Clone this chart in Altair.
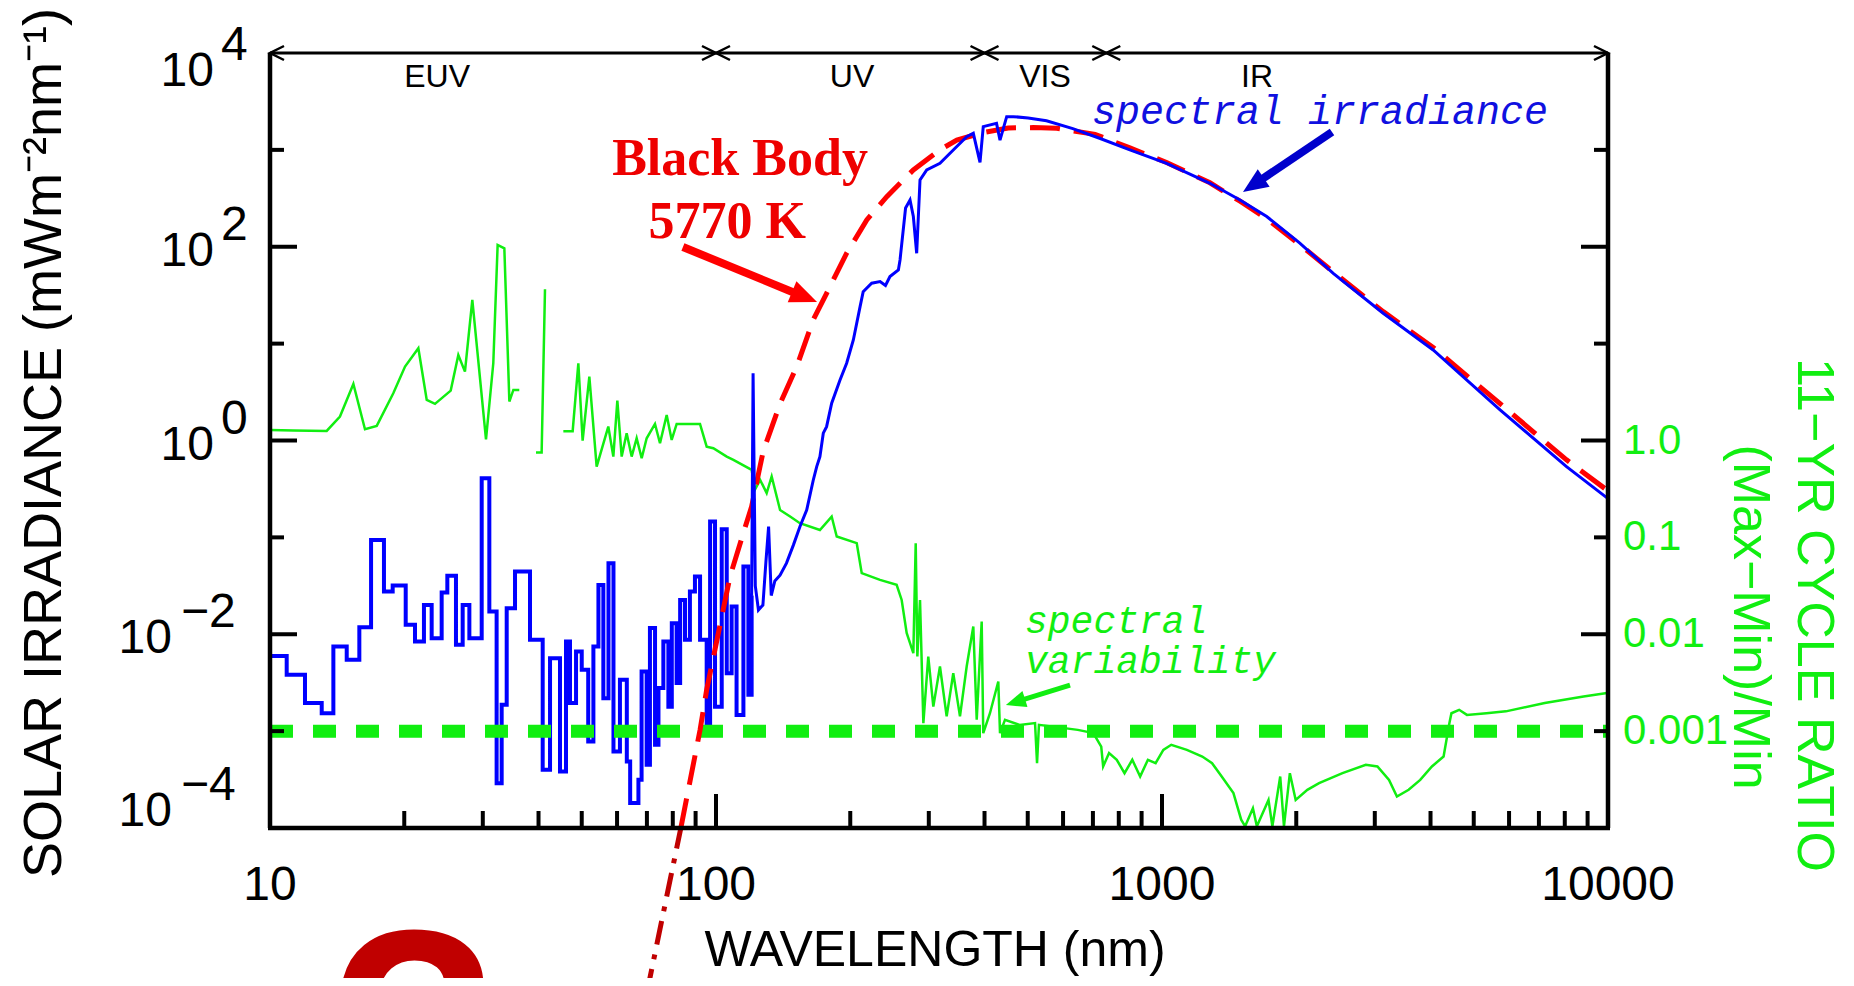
import altair as alt
import pandas as pd

# ---------------- data ----------------
# Blue: EUV spectral irradiance, drawn as steps (nm, mW m^-2 nm^-1)
euv_wl = [10.0, 10.0, 10.9, 11.98, 13.06, 13.87, 14.86, 15.86, 16.85, 18.01, 18.84, 20.15, 21.14, 22.14,
          23.04, 24.26, 24.98, 26.12, 27.04, 27.99, 29.83, 31.03, 32.22, 33.07, 33.94, 35.43, 38.28, 40.87,
          42.45, 44.69, 46.10, 47.06, 48.55, 50.0, 51.7, 53.1, 54.5, 55.9, 57.4, 58.9, 60.9, 63.1, 64.2,
          67.0, 68.1, 69.9, 71.1, 73.0, 74.3, 76.2, 78.2, 79.6, 81.6, 83.1, 85.2, 87.4, 89.7, 92.1, 95.3,
          97.0, 99.5, 103.0, 105.7, 108.4, 111.2, 115.2, 118.2, 120.2, 120.9]
euv_irr = [0.0186, 0.00598, 0.00381, 0.00195, 0.00153, 0.00746, 0.00545, 0.0118, 0.0942, 0.0276, 0.0318,
           0.0125, 0.00841, 0.0201, 0.00912, 0.0270, 0.0401, 0.00778, 0.0201, 0.00912, 0.408, 0.0172,
           0.000290, 0.00187, 0.0186, 0.0445, 0.00875, 0.000399, 0.00566, 0.000383, 0.00841, 0.00195,
           0.00664, 0.00430, 0.000782, 0.00746, 0.0323, 0.00219, 0.0540, 0.000617, 0.00339, 0.000486,
           0.000181, 0.000315, 0.00413, 0.000450, 0.0116, 0.000723, 0.00278, 0.00841, 0.00179, 0.0130,
           0.00313, 0.0226, 0.00875, 0.0276, 0.0394, 0.00875, 0.00121, 0.146, 0.00179, 0.121, 0.00396,
           0.0193, 0.00147, 0.0499, 0.00237, 0.0251, 0.0251]

# Blue: spectral irradiance from Lyman alpha to the IR
sp_wl = [120.2, 121.1, 122.5, 124.5, 127.4, 129.4, 131.2, 133.0, 135.5, 139.2, 143.9, 149.1, 154.2, 159.7,
         165.2, 168.2, 171.0, 174.0, 177.0, 181.7, 189.7, 196.3, 203.2, 210.4, 213.8, 223.4, 233.3, 239.9,
         245.5, 256.4, 258.6, 266.1, 272.3, 277.0, 281.8, 286.7, 296.8, 317.8, 340.4, 364.8, 377.5, 390.8,
         397.4, 425.6, 433.3, 448.5, 464.1, 501.2, 550.8, 631.0, 724.4, 847.2, 1024, 1281, 1496, 1717,
         2037, 2421, 3133, 4055, 5728, 8072, 10000]
sp_irr = [0.0251, 4.94, 0.0316, 0.0178, 0.0200, 0.0562, 0.129, 0.0251, 0.0355, 0.0407, 0.0542, 0.0832,
          0.129, 0.191, 0.389, 0.537, 0.682, 1.19, 1.39, 2.43, 4.22, 6.27, 10.9, 24.1, 34.4, 42.0, 43.7,
          39.8, 49.2, 57.7, 73.1, 251, 304, 205, 85.7, 489, 621, 726, 998, 1368, 1483, 741, 1738, 1879,
          1259, 2203, 2203, 2138, 1995, 1660, 1318, 1000, 726, 452, 304, 205, 109, 53.2, 20.6, 8.61, 2.07,
          0.538, 0.251]

# Red dashed: black body 5770 K
bb_wl = [83.4, 92.1, 95.3, 107.5, 115.1, 120.2, 127.6, 139.2, 151.7, 165.2, 177.0, 196.3, 217.8, 241.5,
         277.0, 317.7, 346.7, 398.1, 451.9, 514.0, 580.8, 707.9, 847.2, 1024, 1281, 1496, 1717, 2037,
         2421, 3133, 4055, 5728, 8072, 10000]
bb_irr = [0.000100, 0.00103, 0.00267, 0.0394, 0.110, 0.208, 0.776, 2.40, 5.79, 17.6, 33.1, 85.7, 189,
          329, 621, 1000, 1265, 1514, 1683, 1698, 1671, 1445, 1047, 741, 457, 295, 195, 105, 55.0, 21.4,
          9.12, 2.40, 0.631, 0.302]
# black body continuation below the frame (dark red)
bb_low_wl = [70.0, 83.4]
bb_low_irr = [2.0e-6, 1.0e-4]

# Green: 11-yr cycle ratio (Max-Min)/Min, three pieces (gaps in the EUV)
gA_wl = [10.0, 11.28, 13.40, 14.35, 15.38, 16.33, 17.35, 18.90, 20.08, 21.51, 22.46, 23.44, 25.42, 26.44,
         27.36, 28.42, 30.50, 31.67, 32.39, 33.53, 34.41, 35.13, 36.22]
gA_val = [1.285, 1.265, 1.256, 1.766, 3.837, 1.306, 1.416, 3.076, 5.794, 8.954, 2.624, 2.388, 3.273, 7.638,
          5.140, 28.25, 1.030, 6.266, 104.5, 96.4, 2.523, 3.327, 3.327]
gB_wl = [39.48, 40.65, 41.36]
gB_val = [0.750, 0.750, 36.4]
gC_wl = [45.47, 47.71, 49.13, 50.23, 52.00, 54.00, 57.35, 58.86, 60.09, 61.45,
         63.05, 64.70, 66.39, 68.13, 69.91, 72.98, 74.89, 77.52, 79.55, 81.62,
         92.07, 95.30, 98.63, 105.7, 109.4, 120.2, 122.2, 125.6, 129.9, 133.3,
         139.2, 146.6, 154.2, 171.0, 181.7, 186.5, 206.8, 212.2, 233.2, 254.1,
         260.8, 267.6, 277.0, 280.4, 282.8, 286.7, 291.7, 299.2, 307.1, 317.8,
         329.0, 340.4, 352.4, 364.8, 377.5, 384.2, 394.2, 397.4, 411.4, 429.5,
         433.3, 444.6, 479.2, 519.2, 524.6, 529.8, 647.4, 701.5, 730.7, 738.0,
         760.8, 791.7, 824.1, 857.8, 893.3, 929.8, 967.6, 1007, 1049, 1137,
         1231, 1295, 1361, 1446, 1505, 1536, 1599, 1632, 1733, 1768,
         1841, 1877, 1935, 1994, 2118, 2250, 2539, 2864, 3041, 3229,
         3363, 3573, 3793, 4029, 4279, 4410, 4456, 4637, 4827, 5340,
         5902, 7214, 8815, 9950]
gC_val = [1.247, 1.247, 6.266, 0.998, 4.571, 0.538, 1.393, 0.682, 2.582, 0.682,
          1.189, 0.682, 1.054, 0.656, 1.054, 1.483, 0.937, 1.837, 1.014, 1.483,
          1.483, 0.865, 0.832, 0.682, 0.631, 0.498, 0.309, 0.392, 0.286, 0.425,
          0.192, 0.164, 0.140, 0.119, 0.164, 0.102, 0.0871, 0.0427, 0.0364, 0.0324,
          0.0226, 0.0103, 0.00638, 0.0871, 0.00589, 0.0226, 0.00121, 0.00589, 0.00179, 0.00465,
          0.00142, 0.00396, 0.00142, 0.00465, 0.0120, 0.00131, 0.0135, 0.000953, 0.00153, 0.00325,
          0.000953, 0.00131, 0.00116, 0.00121, 0.000467, 0.00116, 0.00103, 0.000953, 0.000693, 0.000432,
          0.000593, 0.000506, 0.000368, 0.000506, 0.000340, 0.000506, 0.000467, 0.000641, 0.000723, 0.000641,
          0.000547, 0.000467, 0.000340, 0.000229, 0.000122, 0.000104, 0.000160, 0.000104, 0.000195, 0.000104,
          0.000340, 0.000104, 0.000368, 0.000195, 0.000248, 0.000290, 0.000368, 0.000449, 0.000432, 0.000314,
          0.000211, 0.000248, 0.000314, 0.000432, 0.000547, 0.00121, 0.00153, 0.00166, 0.00147, 0.00153,
          0.00160, 0.00195, 0.00228, 0.00247]

# Green dashed reference level
ref_wl = [10, 10000]
ref_val = [0.001, 0.001]

# Axis ticks and labels
x_major = [100, 1000]
x_minor = [20, 30, 40, 50, 60, 70, 80, 90, 200, 300, 400, 500, 600, 700, 800, 900,
           2000, 3000, 4000, 5000, 6000, 7000, 8000, 9000]
x_labels = ["10", "100", "1000", "10000"]
x_label_vals = [10, 100, 1000, 10000]
y_long = [1e2, 1.0, 1e-2]
y_short = [1e3, 10.0, 1e-1, 1e-3]
y_label_vals = [1e4, 1e2, 1.0, 1e-2, 1e-4]
y_label_exps = ["4", "2", "0", "\u22122", "\u22124"]
r_label_vals = [1.0, 0.1, 0.01, 0.001]
r_labels = ["1.0", "0.1", "0.01", "0.001"]

# Spectral regions on the top bar
region_names = ["EUV", "UV", "VIS", "IR"]
region_pos = [23.7, 201.8, 546.6, 1633]
region_bounds = [100, 400, 750]

# Annotations (data coordinates)
red_arrow = {"x1": 84.3, "y1": 99.4, "x2": 153.1, "y2": 32.2, "tx": 168.5, "ty": 26.9}
blue_arrow = {"x1": 2405, "y1": 1529, "x2": 1655, "y2": 479.6, "tx": 1519, "ty": 367.6}
green_arrow = {"x1": 622, "y1": 0.00299, "x2": 474.3, "y2": 0.002026, "tx": 446.7, "ty": 0.001861}

# ---------------- chart ----------------
W, H = 1338, 775
SANS = "Liberation Sans"
BLUE = "#0000FF"
GREEN = "#11EE11"
RED = "#FF0000"

xs = alt.Scale(type="log", domain=[10, 10000])
ys = alt.Scale(type="log", domain=[1e-4, 1e4])


def X(f):
    return alt.X(f"{f}:Q", scale=xs, axis=None)


def Y(f):
    return alt.Y(f"{f}:Q", scale=ys, axis=None)


def line_df(wl, val):
    return pd.DataFrame({"wl": wl, "val": val, "i": list(range(len(wl)))})


rows = []
for seg, (wl, vv) in enumerate([(gA_wl, gA_val), (gB_wl, gB_val), (gC_wl, gC_val)]):
    for i, (a, b) in enumerate(zip(wl, vv)):
        rows.append({"wl": a, "val": b, "seg": seg, "i": i})
green_df = pd.DataFrame(rows)

one = pd.DataFrame({"a": [0]})
layers = []

# data series
layers.append(alt.Chart(green_df).mark_line(color=GREEN, strokeWidth=2.5).encode(
    x=X("wl"), y=Y("val"), detail="seg:N", order="i:Q"))
layers.append(alt.Chart(line_df(euv_wl, euv_irr)).mark_line(
    color=BLUE, strokeWidth=4, interpolate="step-after").encode(x=X("wl"), y=Y("val"), order="i:Q"))
layers.append(alt.Chart(line_df(ref_wl, ref_val)).mark_line(
    color=GREEN, strokeWidth=13, strokeDash=[23, 20]).encode(x=X("wl"), y=Y("val"), order="i:Q"))
layers.append(alt.Chart(line_df(bb_low_wl, bb_low_irr)).mark_line(
    color="#C00000", strokeWidth=5, strokeDash=[24, 10, 5, 10]).encode(x=X("wl"), y=Y("val"), order="i:Q"))
layers.append(alt.Chart(line_df(bb_wl, bb_irr)).mark_line(
    color=RED, strokeWidth=5, strokeDash=[30, 14]).encode(x=X("wl"), y=Y("val"), order="i:Q"))
layers.append(alt.Chart(line_df(sp_wl, sp_irr)).mark_line(
    color=BLUE, strokeWidth=3).encode(x=X("wl"), y=Y("val"), order="i:Q"))

# frame
layers.append(alt.Chart(one).mark_rule(color="black", strokeWidth=4.5).encode(
    x=alt.value(0), y=alt.value(0), y2=alt.value(H)))
layers.append(alt.Chart(one).mark_rule(color="black", strokeWidth=4.5).encode(
    x=alt.value(W), y=alt.value(0), y2=alt.value(H)))
layers.append(alt.Chart(one).mark_rule(color="black", strokeWidth=4.5).encode(
    x=alt.value(-2), x2=alt.value(W + 2), y=alt.value(H)))
layers.append(alt.Chart(one).mark_rule(color="black", strokeWidth=3).encode(
    x=alt.value(0), x2=alt.value(W), y=alt.value(0)))

# ticks
layers.append(alt.Chart(pd.DataFrame({"v": y_long})).mark_rule(color="black", strokeWidth=4).encode(
    y=Y("v"), x=alt.value(0), x2=alt.value(27)))
layers.append(alt.Chart(pd.DataFrame({"v": y_short})).mark_rule(color="black", strokeWidth=4).encode(
    y=Y("v"), x=alt.value(0), x2=alt.value(14)))
layers.append(alt.Chart(pd.DataFrame({"v": y_long})).mark_rule(color="black", strokeWidth=4).encode(
    y=Y("v"), x=alt.value(W - 27), x2=alt.value(W)))
layers.append(alt.Chart(pd.DataFrame({"v": y_short})).mark_rule(color="black", strokeWidth=4).encode(
    y=Y("v"), x=alt.value(W - 14), x2=alt.value(W)))
layers.append(alt.Chart(pd.DataFrame({"v": x_major})).mark_rule(color="black", strokeWidth=4).encode(
    x=X("v"), y=alt.value(H), y2=alt.value(H - 34)))
layers.append(alt.Chart(pd.DataFrame({"v": x_minor})).mark_rule(color="black", strokeWidth=4).encode(
    x=X("v"), y=alt.value(H), y2=alt.value(H - 17)))

# x tick labels
layers.append(alt.Chart(pd.DataFrame({"v": x_label_vals, "t": x_labels})).mark_text(
    font=SANS, fontSize=48, align="center", baseline="middle", color="black").encode(
    x=X("v"), y=alt.value(H + 58), text="t:N"))

# left tick labels: "10" with raised exponent
n = len(y_label_vals)
for k, (v, e) in enumerate(zip(y_label_vals, y_label_exps)):
    neg = e.startswith("\u2212")
    bx = -98 if neg else -56
    ex = -89 if neg else -49
    dyb = 19 if k == 0 else (-16 if k == n - 1 else 5)
    d = pd.DataFrame({"v": [v], "b": ["10"], "e": [e]})
    layers.append(alt.Chart(d).mark_text(font=SANS, fontSize=48, align="right", baseline="middle",
                                         dy=dyb, color="black").encode(
        x=alt.value(bx), y=Y("v"), text="b:N"))
    layers.append(alt.Chart(d).mark_text(font=SANS, fontSize=48, align="left", baseline="middle",
                                         dy=dyb - 26, color="black").encode(
        x=alt.value(ex), y=Y("v"), text="e:N"))

# right tick labels (ratio)
layers.append(alt.Chart(pd.DataFrame({"v": r_label_vals, "t": r_labels})).mark_text(
    font=SANS, fontSize=42, align="left", baseline="middle", color=GREEN).encode(
    x=alt.value(W + 15), y=Y("v"), text="t:N"))

# axis titles
layers.append(alt.Chart(pd.DataFrame({"t": ["SOLAR  IRRADIANCE  (mWm\u207b\u00b2nm\u207b\u00b9)"]})).mark_text(
    font=SANS, fontSize=54, angle=270, align="center", baseline="middle", color="black").encode(
    x=alt.value(-225), y=alt.value(390), text="t:N"))
layers.append(alt.Chart(pd.DataFrame({"t": ["WAVELENGTH (nm)"]})).mark_text(
    font=SANS, fontSize=50, align="center", baseline="middle", color="black").encode(
    x=alt.value(665), y=alt.value(898), text="t:N"))
layers.append(alt.Chart(pd.DataFrame({"t": ["11\u2212YR  CYCLE  RATIO"]})).mark_text(
    font=SANS, fontSize=52, angle=90, align="center", baseline="middle", color=GREEN).encode(
    x=alt.value(1544), y=alt.value(562), text="t:N"))
layers.append(alt.Chart(pd.DataFrame({"t": ["(Max\u2212Min)/Min"]})).mark_text(
    font=SANS, fontSize=52, angle=90, align="center", baseline="middle", color=GREEN).encode(
    x=alt.value(1480), y=alt.value(564), text="t:N"))

# top region bar: arrowheads and labels
BOTH = "M-1,-0.5L0,0L-1,0.5M1,-0.5L0,0L1,0.5"
LEFT = "M1,-0.5L0,0L1,0.5"
RIGHT = "M-1,-0.5L0,0L-1,0.5"
for shape, vals in [(BOTH, region_bounds), (LEFT, [10]), (RIGHT, [10000])]:
    layers.append(alt.Chart(pd.DataFrame({"v": vals, "y": [1e4] * len(vals)})).mark_point(
        shape=shape, filled=False, stroke="black", strokeWidth=2.5, size=784, opacity=1).encode(
        x=X("v"), y=Y("y")))
layers.append(alt.Chart(pd.DataFrame({"v": region_pos, "t": region_names, "y": [4457] * 4})).mark_text(
    font=SANS, fontSize=32, align="center", baseline="alphabetic", color="black").encode(
    x=X("v"), y=Y("y"), text="t:N"))

# annotation arrows
HEAD = "M0,0L-2,-0.85L-2,0.85Z"
for arr, col, sw, size, ang in [(red_arrow, RED, 8, 729, 22.3), (blue_arrow, "#0000CC", 8, 625, 146.0),
                                (green_arrow, GREEN, 5, 400, 162.6)]:
    d = pd.DataFrame({k: [v] for k, v in arr.items()})
    layers.append(alt.Chart(d).mark_rule(color=col, strokeWidth=sw).encode(
        x=X("x1"), y=Y("y1"), x2="x2:Q", y2="y2:Q"))
    layers.append(alt.Chart(d).mark_point(shape=HEAD, filled=True, color=col, size=size, angle=ang,
                                          opacity=1, strokeWidth=0).encode(x=X("tx"), y=Y("ty")))

# annotation texts
layers.append(alt.Chart(pd.DataFrame({"x": [113.2, 105.9], "y": [550.4, 123.1],
                                      "t": ["Black Body", "5770 K"]})).mark_text(
    font="Liberation Serif", fontWeight="bold", fontSize=52, align="center", baseline="alphabetic",
    color="#EE0000").encode(x=X("x"), y=Y("y"), text="t:N"))
layers.append(alt.Chart(pd.DataFrame({"x": [2261], "y": [1830], "t": ["spectral irradiance"]})).mark_text(
    font="Liberation Mono", fontStyle="italic", fontSize=40, align="center", baseline="alphabetic",
    color="#1010E0").encode(x=X("x"), y=Y("y"), text="t:N"))
layers.append(alt.Chart(pd.DataFrame({"x": [493, 493], "y": [0.0103, 0.00398],
                                      "t": ["spectral", "variability"]})).mark_text(
    font="Liberation Mono", fontStyle="italic", fontSize=38, align="left", baseline="alphabetic",
    color=GREEN).encode(x=X("x"), y=Y("y"), text="t:N"))

# big question mark at the bottom (slide decoration, cut by the edge)
layers.append(alt.Chart(pd.DataFrame({"t": ["?"]})).mark_text(
    font=SANS, fontWeight="bold", fontSize=280, align="center", baseline="alphabetic",
    color="#C00000").encode(x=alt.value(144), y=alt.value(1072), text="t:N"))

chart = alt.layer(*layers).properties(
    width=W, height=H,
    autosize=alt.AutoSizeParams(type="none"),
    padding={"left": 262, "top": 45, "right": 238, "bottom": 150},
    background="white",
).configure_view(stroke=None)

chart.save("out.html", embed_options={"renderer": "svg", "actions": False})
